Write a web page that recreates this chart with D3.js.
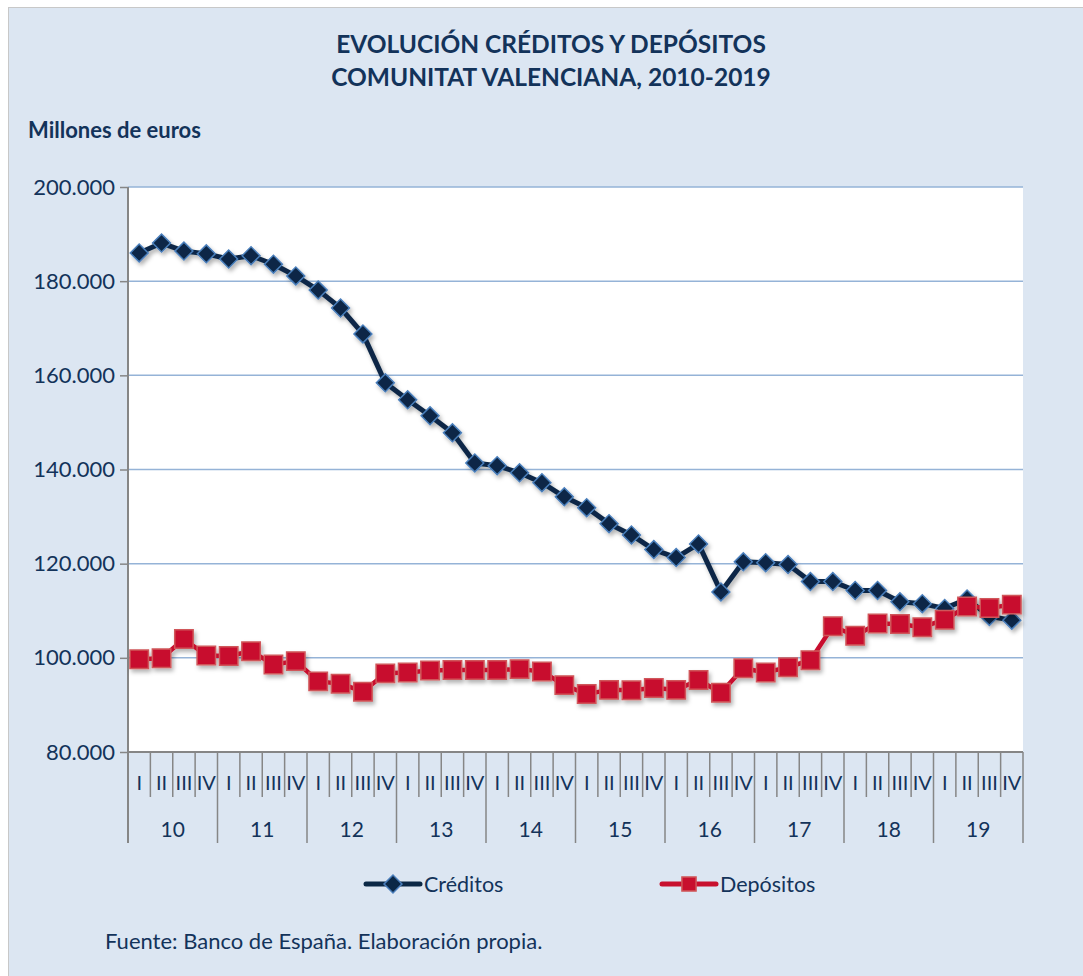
<!DOCTYPE html>
<html>
<head>
<meta charset="utf-8">
<script src="https://cdn.jsdelivr.net/npm/d3@7"></script>
<style>
  html, body { margin: 0; padding: 0; background: #fff; }
  svg { display: block; font-family: Lato, 'Open Sans', sans-serif; }
</style>
</head>
<body>
<svg id="chart" width="1083" height="976"></svg>
<script>
//
// Data
//

var years = ['10', '11', '12', '13', '14', '15', '16', '17', '18', '19']
var quarters = ['I', 'II', 'III', 'IV']
var yTicks = [80000, 100000, 120000, 140000, 160000, 180000, 200000]

// millones de euros, one value per quarter 2010-I .. 2019-IV
var creditos = [
  186000, 188100, 186400, 185800, 184700, 185400, 183600, 181100, 178100, 174300,
  168800, 158400, 154800, 151400, 147800, 141400, 140800, 139300, 137200, 134200,
  131900, 128500, 126100, 123000, 121300, 124200, 114000, 120400, 120200, 119800,
  116200, 116200, 114300, 114300, 111900, 111500, 110500, 112500, 108800, 108000
]
var depositos = [
  99700, 99900, 104000, 100500, 100400, 101400, 98600, 99300, 95000, 94500,
  92800, 96700, 96900, 97300, 97400, 97400, 97400, 97600, 97100, 94200,
  92300, 93200, 93100, 93600, 93200, 95300, 92600, 97800, 96900, 98000,
  99500, 106700, 104700, 107300, 107200, 106500, 108100, 110900, 110600, 111300
]

//
// Configuration
//

var colorBg = '#dce6f2'
var colorText = '#13335a'
var colorGrid = '#95b3d7'
var colorAxis = '#868686'
var colorCred = '#0b2846'
var colorCredEdge = '#4a7ebb'
var colorDep = '#c8102e'
var colorDepEdge = '#d0575a'

var plotLeft = 128, plotRight = 1023, plotTop = 187, plotBottom = 752

var svg = d3.select('#chart')

var labels = []
years.forEach(function(y) {
  quarters.forEach(function(q) { labels.push(y + '-' + q) })
})

var x = d3.scaleBand().domain(labels).range([plotLeft, plotRight])
var xYear = d3.scaleBand().domain(years).range([plotLeft, plotRight])
var y = d3.scaleLinear().domain([80000, 200000]).range([plotBottom, plotTop])

var fmt = function(d) { return d3.format(',')(d).replace(/,/g, '.') }

//
// Background and shadow filter
//

svg.append('rect')
  .attr('x', 8.5).attr('y', 7.5)
  .attr('width', 1090).attr('height', 980)
  .attr('fill', colorBg)
  .attr('stroke', '#c8c8c8')

var defs = svg.append('defs')
defs.append('filter').attr('id', 'shadow')
  .attr('x', '-20%').attr('y', '-20%').attr('width', '140%').attr('height', '140%')
  .append('feDropShadow')
  .attr('dx', 2).attr('dy', 3).attr('stdDeviation', 2)
  .attr('flood-color', '#000').attr('flood-opacity', 0.3)

svg.append('rect')
  .attr('x', plotLeft).attr('y', plotTop)
  .attr('width', plotRight - plotLeft).attr('height', plotBottom - plotTop)
  .attr('fill', '#fff')

//
// Titles
//

svg.append('text')
  .attr('x', 551).attr('y', 53)
  .attr('text-anchor', 'middle')
  .attr('font-size', 24.5).attr('font-weight', 'bold')
  .attr('fill', colorText)
  .text('EVOLUCIÓN CRÉDITOS Y DEPÓSITOS')

svg.append('text')
  .attr('x', 551).attr('y', 86)
  .attr('text-anchor', 'middle')
  .attr('font-size', 24.5).attr('font-weight', 'bold')
  .attr('fill', colorText)
  .text('COMUNITAT VALENCIANA, 2010-2019')

svg.append('text')
  .attr('x', 28).attr('y', 138)
  .attr('font-size', 22).attr('font-weight', 'bold')
  .attr('fill', colorText)
  .text('Millones de euros')

//
// Grid and y axis
//

svg.append('g')
  .selectAll('line')
  .data(yTicks.slice(1))
  .enter().append('line')
  .attr('x1', plotLeft).attr('x2', plotRight)
  .attr('y1', function(d) { return y(d) }).attr('y2', function(d) { return y(d) })
  .attr('stroke', colorGrid).attr('stroke-width', 1.5)

var yAxis = svg.append('g')
  .attr('transform', 'translate(' + plotLeft + ',0)')
  .call(d3.axisLeft(y).tickValues(yTicks).tickFormat(fmt).tickSize(8).tickPadding(5))
yAxis.select('.domain').remove()
yAxis.selectAll('line').attr('stroke', colorAxis).attr('stroke-width', 1.5)
yAxis.selectAll('text')
  .attr('font-size', 22).attr('fill', colorText)
  .attr('font-family', 'Lato, sans-serif')

svg.append('line')
  .attr('x1', plotLeft).attr('x2', plotLeft)
  .attr('y1', plotTop).attr('y2', 843)
  .attr('stroke', colorAxis).attr('stroke-width', 2)

//
// Category axis (quarters and years)
//

svg.append('line')
  .attr('x1', plotLeft).attr('x2', plotRight)
  .attr('y1', plotBottom).attr('y2', plotBottom)
  .attr('stroke', colorAxis).attr('stroke-width', 2)

svg.append('g')
  .selectAll('line')
  .data(labels.slice(1).concat(['end']))
  .enter().append('line')
  .attr('x1', function(d) { return d === 'end' ? plotRight : x(d) })
  .attr('x2', function(d) { return d === 'end' ? plotRight : x(d) })
  .attr('y1', plotBottom)
  .attr('y2', function(d, i) { return (i + 1) % 4 === 0 ? 843 : 797 })
  .attr('stroke', colorAxis).attr('stroke-width', 1.5)

svg.append('g')
  .selectAll('text')
  .data(labels)
  .enter().append('text')
  .attr('x', function(d) { return x(d) + x.bandwidth() / 2 })
  .attr('y', 790)
  .attr('text-anchor', 'middle')
  .attr('font-size', 20).attr('fill', colorText)
  .text(function(d) { return d.split('-')[1] })

svg.append('g')
  .selectAll('text')
  .data(years)
  .enter().append('text')
  .attr('x', function(d) { return xYear(d) + xYear.bandwidth() / 2 })
  .attr('y', 837)
  .attr('text-anchor', 'middle')
  .attr('font-size', 21).attr('fill', colorText)
  .text(function(d) { return d })

//
// Series
//

var line = d3.line()
  .x(function(d, i) { return x(labels[i]) + x.bandwidth() / 2 })
  .y(function(d) { return y(d) })

var diamond = d3.symbol().type(d3.symbolSquare).size(160)
var square = d3.symbol().type(d3.symbolSquare).size(340)

function drawSeries(values, lineColor, width, fill, edge, shape, rot) {
  var g = svg.append('g').attr('filter', 'url(#shadow)')
  g.append('path')
    .datum(values)
    .attr('d', line)
    .attr('fill', 'none')
    .attr('stroke', lineColor).attr('stroke-width', width)
    .attr('stroke-linejoin', 'round')
  g.selectAll('path.m')
    .data(values)
    .enter().append('path')
    .attr('class', 'm')
    .attr('d', shape)
    .attr('transform', function(d, i) {
      return 'translate(' + (x(labels[i]) + x.bandwidth() / 2) + ',' + y(d) + ') rotate(' + rot + ')'
    })
    .attr('fill', fill)
    .attr('stroke', edge).attr('stroke-width', 1.5)
}

drawSeries(creditos, colorCred, 5, colorCred, colorCredEdge, diamond, 45)
drawSeries(depositos, colorDep, 4.5, colorDep, colorDepEdge, square, 0)

//
// Legend
//

var legend = [
  { name: 'Créditos', x: 366, color: colorCred, edge: colorCredEdge, shape: diamond, rot: 45 },
  { name: 'Depósitos', x: 662, color: colorDep, edge: colorDepEdge, shape: d3.symbol().type(d3.symbolSquare).size(200), rot: 0 }
]

var lg = svg.append('g').selectAll('g').data(legend).enter().append('g')
lg.append('line')
  .attr('x1', function(d) { return d.x }).attr('x2', function(d) { return d.x + 54 })
  .attr('y1', 884).attr('y2', 884)
  .attr('stroke', function(d) { return d.color }).attr('stroke-width', 5)
  .attr('stroke-linecap', 'round')
lg.append('path')
  .attr('d', function(d) { return d.shape() })
  .attr('transform', function(d) { return 'translate(' + (d.x + 27) + ',884) rotate(' + d.rot + ')' })
  .attr('fill', function(d) { return d.color })
  .attr('stroke', function(d) { return d.edge }).attr('stroke-width', 1.5)
lg.append('text')
  .attr('x', function(d) { return d.x + 58 }).attr('y', 892)
  .attr('font-size', 21.5).attr('fill', colorText)
  .text(function(d) { return d.name })

//
// Source
//

svg.append('text')
  .attr('x', 105).attr('y', 949)
  .attr('font-size', 22).attr('fill', colorText)
  .text('Fuente: Banco de España. Elaboración propia.')
</script>
</body>
</html>
